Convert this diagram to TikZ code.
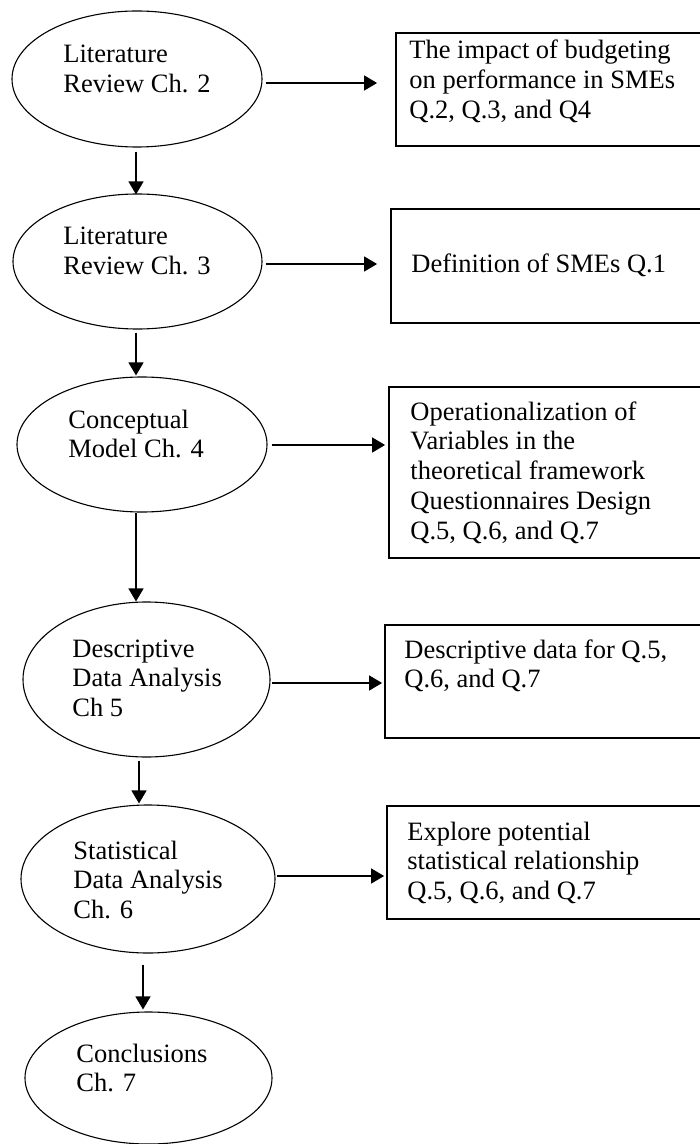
\documentclass[tikz,border=0pt]{standalone}
\usepackage{fontspec}
\setmainfont{Liberation Serif}
\usetikzlibrary{arrows.meta,shapes.geometric}
% a block of left-aligned lines whose baseline is that of the first line
\newcommand\linesblock[1]{\parbox[t]{150pt}{\raggedright #1}}
\begin{document}
\begin{tikzpicture}[x=0.5pt,y=-0.5pt,
  oval/.style={draw, ellipse, line width=0.55pt, inner sep=0pt},
  frame/.style={draw, rectangle, line width=0.9pt, inner sep=0pt},
  txt/.style={anchor=base west, inner sep=0pt, font=\fontsize{13.25pt}{14.9pt}\selectfont},
  arr/.style={line width=0.65pt, -{Triangle[width=7.5pt,length=6.5pt]}}]
\path[use as bounding box] (0,0) rectangle (700,1144);

% chapters
\node[oval, minimum width=125pt,   minimum height=68pt]   (e1) at (137,79)     {};
\node[oval, minimum width=124.5pt, minimum height=67.5pt] (e2) at (137.5,261.5) {};
\node[oval, minimum width=125pt,   minimum height=67.5pt] (e3) at (142,444.5)  {};
\node[oval, minimum width=123.5pt, minimum height=77.5pt] (e4) at (146.5,679.5) {};
\node[oval, minimum width=127pt,   minimum height=74pt]   (e5) at (148,879)    {};
\node[oval, minimum width=123.5pt, minimum height=66pt]   (e6) at (148.5,1078) {};

\node[txt] (t1) at (63,63)   {\linesblock{Literature\\Review Ch. 2}};
\node[txt] (t2) at (63,245)  {\linesblock{Literature\\Review Ch. 3}};
\node[txt] (t3) at (68,428)  {\linesblock{Conceptual\\Model Ch. 4}};
\node[txt] (t4) at (72,657)  {\linesblock{Descriptive\\Data Analysis\\Ch 5}};
\node[txt] (t5) at (73,859)  {\linesblock{Statistical\\Data Analysis\\Ch. 6}};
\node[txt] (t6) at (76,1062) {\linesblock{Conclusions\\Ch. 7}};

% outcomes
\node[frame, minimum width=152.5pt, minimum height=56.5pt] (b1) at (548.5,89.5) {};
\node[frame, minimum width=155pt,   minimum height=57pt]   (b2) at (546,266)    {};
\node[frame, minimum width=156pt,   minimum height=85.5pt] (b3) at (545,472.5)  {};
\node[frame, minimum width=158pt,   minimum height=56.5pt] (b4) at (543,681.5)  {};
\node[frame, minimum width=157pt,   minimum height=56.5pt] (b5) at (544,862.5)  {};

\node[txt] (u1) at (409,59)  {\linesblock{The impact of budgeting\\on performance in SMEs\\Q.2, Q.3, and Q4}};
\node[txt] (u2) at (411,273) {\linesblock{Definition of SMEs Q.1}};
\node[txt] (u3) at (410,420) {\linesblock{Operationalization of\\Variables in the\\theoretical framework\\Questionnaires Design\\Q.5, Q.6, and Q.7}};
\node[txt] (u4) at (404,658) {\linesblock{Descriptive data for Q.5,\\Q.6, and Q.7}};
\node[txt] (u5) at (407,840) {\linesblock{Explore potential\\statistical relationship\\Q.5, Q.6, and Q.7}};

% chapter to outcome
\draw[arr, shorten >=9pt]   ([shift={(3,4)}]e1.east)   -- ([shift={(0,4)}]e1.east -| b1.west);
\draw[arr, shorten >=6.5pt] ([shift={(3,2.5)}]e2.east) -- ([shift={(0,2.5)}]e2.east -| b2.west);
\draw[arr, shorten >=1.5pt] ([shift={(4,0.5)}]e3.east) -- ([shift={(0,0.5)}]e3.east -| b3.west);
\draw[arr, shorten >=1pt]   ([shift={(1,3.5)}]e4.east) -- ([shift={(0,3.5)}]e4.east -| b4.west);
\draw[arr, shorten >=1pt]   ([shift={(1,-3)}]e5.east)  -- ([shift={(0,-3)}]e5.east -| b5.west);

% chapter sequence
\draw[arr] ([shift={(-1,4)}]e1.south)   -- ([shift={(-1.5,1)}]e2.north);
\draw[arr] ([shift={(-1.5,3)}]e2.south) -- ([shift={(-6,-1)}]e3.north);
\draw[arr] ([shift={(-6,0)}]e3.south)   -- ([shift={(-10.5,0)}]e4.north);
\draw[arr] ([shift={(-7.5,3)}]e4.south) -- ([shift={(-9,-1)}]e5.north);
\draw[arr] ([shift={(-5,11)}]e5.south)  -- ([shift={(-5.5,-2)}]e6.north);
\end{tikzpicture}
\end{document}
